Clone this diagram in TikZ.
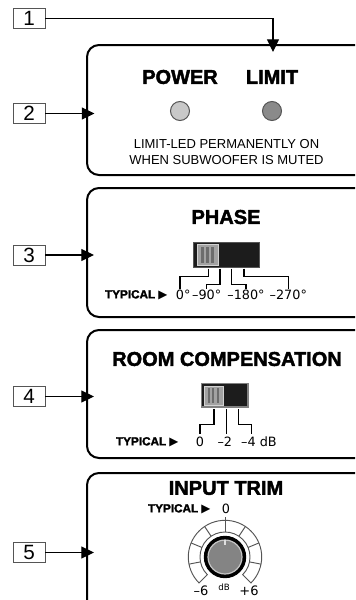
\documentclass[tikz,border=0pt]{standalone}
\usepackage{fontspec}
\setmainfont{Liberation Sans}
\newfontfamily\blackfont[FakeBold=2]{Liberation Sans Bold}
\newfontfamily\dejavu{DejaVu Sans}
\usetikzlibrary{arrows.meta}

\definecolor{framegrey}{HTML}{555555}
\definecolor{powerled}{HTML}{C8C8C8}
\definecolor{limitled}{HTML}{8A8A8A}
\definecolor{switchblack}{HTML}{1C1C1C}
\definecolor{slidergrey}{HTML}{A2A2A2}
\definecolor{stripegrey}{HTML}{6C6C6C}
\definecolor{knobgrey}{HTML}{848484}

\tikzset{every picture/.style={line width=0.75pt},
  numbox/.style={draw=framegrey, line width=0.6pt, fill=white, minimum width=24pt, minimum height=15pt, inner sep=0pt, font=\fontsize{15.5}{17}\selectfont},
  callout/.style={-{Triangle[length=9.5pt,width=9pt]}, line width=0.8pt},
  panel/.style={line width=1.5pt, rounded corners=9pt},
  title/.style={inner sep=0.75pt, font=\blackfont\fontsize{15}{18}\selectfont},
  note/.style={inner sep=0.75pt, align=center, font=\fontsize{9.75}{12.2}\selectfont},
  typical/.style={anchor=east, inner sep=0.75pt, font=\blackfont\fontsize{8.8}{10}\selectfont},
  value/.style={inner sep=0.75pt, font=\dejavu\fontsize{9.6}{11}\selectfont},
  bracket/.style={line width=0.9pt},
}

\begin{document}
\begin{tikzpicture}[x=0.75pt,y=0.75pt,yscale=-1,xscale=1]
		\useasboundingbox (0,0) rectangle (355,600);
		\clip (0,0) rectangle (355,600);

		%Shape: Rounded Rect [panel leds]
		\draw [panel] (87,45) rectangle (372,175);
		%Shape: Rounded Rect [panel phase]
		\draw [panel] (87,188) rectangle (372,317);
		%Shape: Rounded Rect [panel room]
		\draw [panel] (87,330) rectangle (372,458);
		%Shape: Rounded Rect [panel trim]
		\draw [panel] (87,473) rectangle (372,615);

		% Callout numbers
		\draw (29,18.5) node [numbox] (num1) {1};
		\draw (29,113.5) node [numbox] (num2) {2};
		\draw (29,255) node [numbox] (num3) {3};
		\draw (29,396.5) node [numbox] (num4) {4};
		\draw (29,552.5) node [numbox] (num5) {5};
		\coordinate (tip1) at (273,52);
		\coordinate (tip2) at (94.5,113.5);
		\coordinate (tip3) at (94,255);
		\coordinate (tip4) at (94,396.5);
		\coordinate (tip5) at (94,552.5);
		\draw [callout] (num1) -| (tip1);
		\draw [callout] (num2) -- (tip2);
		\draw [callout] (num3) -- (tip3);
		\draw [callout] (num4) -- (tip4);
		\draw [callout] (num5) -- (tip5);

		% Text Node
		\draw (180,77) node [title] (power) {POWER};
		% Text Node
		\draw (272,77) node [title] (limit) {LIMIT};
		%Shape: Circle [led power]
		\draw [draw=framegrey, fill=powerled] (180,111) circle [radius=9.5];
		%Shape: Circle [led limit]
		\draw [draw=framegrey, fill=limitled] (272,111) circle [radius=9.5];
		% Text Node
		\draw (226.5,152) node [note] (mutenote) {LIMIT-LED PERMANENTLY ON\\WHEN SUBWOOFER IS MUTED};

		% Text Node
		\draw (226,217) node [title] (phase) {PHASE};
		%Shape: Rectangle [phase switch]
		\draw [draw=framegrey, fill=switchblack] (193,242) rectangle (259,267);
		\draw [draw=gray!35, fill=slidergrey, line width=0.6pt] (197.5,244.5) rectangle (218,265);
		\fill [stripegrey] (201,246.5) rectangle (203.5,263);
		\fill [stripegrey] (206,246.5) rectangle (208.5,263);
		\fill [stripegrey] (211,246.5) rectangle (213.5,263);
		%Straight Lines [phase brackets]
		\draw [bracket] (208.3,268.5) -- (208.3,276.7) -- (180,276.7) -- (180,289);
		\draw [bracket] (220,268.5) -- (220,284.3) -- (206.7,284.3) -- (206.7,289);
		\draw [bracket] (231.7,268.5) -- (231.7,284.3) -- (246,284.3) -- (246,289);
		\draw [bracket] (244,268.5) -- (244,276.7) -- (288.3,276.7) -- (288.3,289);
		% Text Node
		\draw (169,295) node [typical] (typphase) {TYPICAL {\dejavu ▶}};
		\draw (180,295) node [value] (ph0) {0\rlap{°}};
		\draw (206.7,295) node [value] (ph90) {\llap{–}90\rlap{°}};
		\draw (246,295) node [value] (ph180) {\llap{–}180\rlap{°}};
		\draw (288.3,295) node [value] (ph270) {\llap{–}270\rlap{°}};

		% Text Node
		\draw (227,359) node [title] (room) {ROOM COMPENSATION};
		%Shape: Rectangle [room switch]
		\draw [draw=gray, line width=1.2pt, fill=switchblack] (201.5,383.5) rectangle (248,407);
		\draw [draw=gray!35, fill=slidergrey, line width=0.6pt] (204.5,386) rectangle (223,405);
		\fill [stripegrey] (207.5,388) rectangle (209.8,403);
		\fill [stripegrey] (212,388) rectangle (214.3,403);
		\fill [stripegrey] (216.5,388) rectangle (218.8,403);
		%Straight Lines [room brackets]
		\draw [bracket] (214,409) -- (214,424.7) -- (200,424.7) -- (200,434);
		\draw [bracket] (226.7,409) -- (226.7,434);
		\draw [bracket] (238.3,409) -- (238.3,424.7) -- (251.7,424.7) -- (251.7,434);
		% Text Node
		\draw (180,442) node [typical] (typroom) {TYPICAL {\dejavu ▶}};
		\draw (200,442) node [value] (rc0) {0};
		\draw (228,442) node [value] (rc2) {\llap{–}2};
		\draw (251.7,442) node [value] (rc4) {\llap{–}4\rlap{ dB}};

		% Text Node
		\draw (226,488) node [title] (trim) {INPUT TRIM};
		\draw (212,509) node [typical] (typtrim) {TYPICAL {\dejavu ▶}};
		\draw (226,509) node [value] (tr0) {0};
		%Shape: Ring [trim scale]
		\draw [shift={(225,557)}, draw=framegrey, fill=white, line width=0.7pt] (-225:36.7) arc [start angle=-225, end angle=45, radius=36.7] -- (45:25) arc [start angle=45, end angle=-225, radius=25] -- cycle;
		\draw [shift={(225,557)}, draw=framegrey, line width=0.7pt] (-90:25) -- (-90:40);
		\draw [shift={(225,557)}, draw=framegrey, line width=0.7pt] (-56.25:25) -- (-56.25:36.7);
		\draw [shift={(225,557)}, draw=framegrey, line width=0.7pt] (-22.5:25) -- (-22.5:36.7);
		\draw [shift={(225,557)}, draw=framegrey, line width=0.7pt] (11.25:25) -- (11.25:36.7);
		\draw [shift={(225,557)}, draw=framegrey, line width=0.7pt] (-123.75:25) -- (-123.75:36.7);
		\draw [shift={(225,557)}, draw=framegrey, line width=0.7pt] (-157.5:25) -- (-157.5:36.7);
		\draw [shift={(225,557)}, draw=framegrey, line width=0.7pt] (-191.25:25) -- (-191.25:36.7);
		%Shape: Circle [trim knob]
		\draw [fill=black] (225,557) circle [radius=20.7];
		\draw [draw=gray!45, fill=knobgrey, line width=0.9pt] (225,557) circle [radius=17];
		\draw [draw=gray!25, line width=1pt] (225,539.5) -- (225,545);
		% Text Node
		\draw (201,591) node [value, font=\dejavu\fontsize{9.75}{11}\selectfont] (trmin) {–6};
		\draw (224,587.5) node [value, font=\dejavu\fontsize{6.5}{8}\selectfont] (trdb) {dB};
		\draw (249,591) node [value, font=\dejavu\fontsize{9.75}{11}\selectfont] (trmax) {+6};

\end{tikzpicture}
\end{document}
